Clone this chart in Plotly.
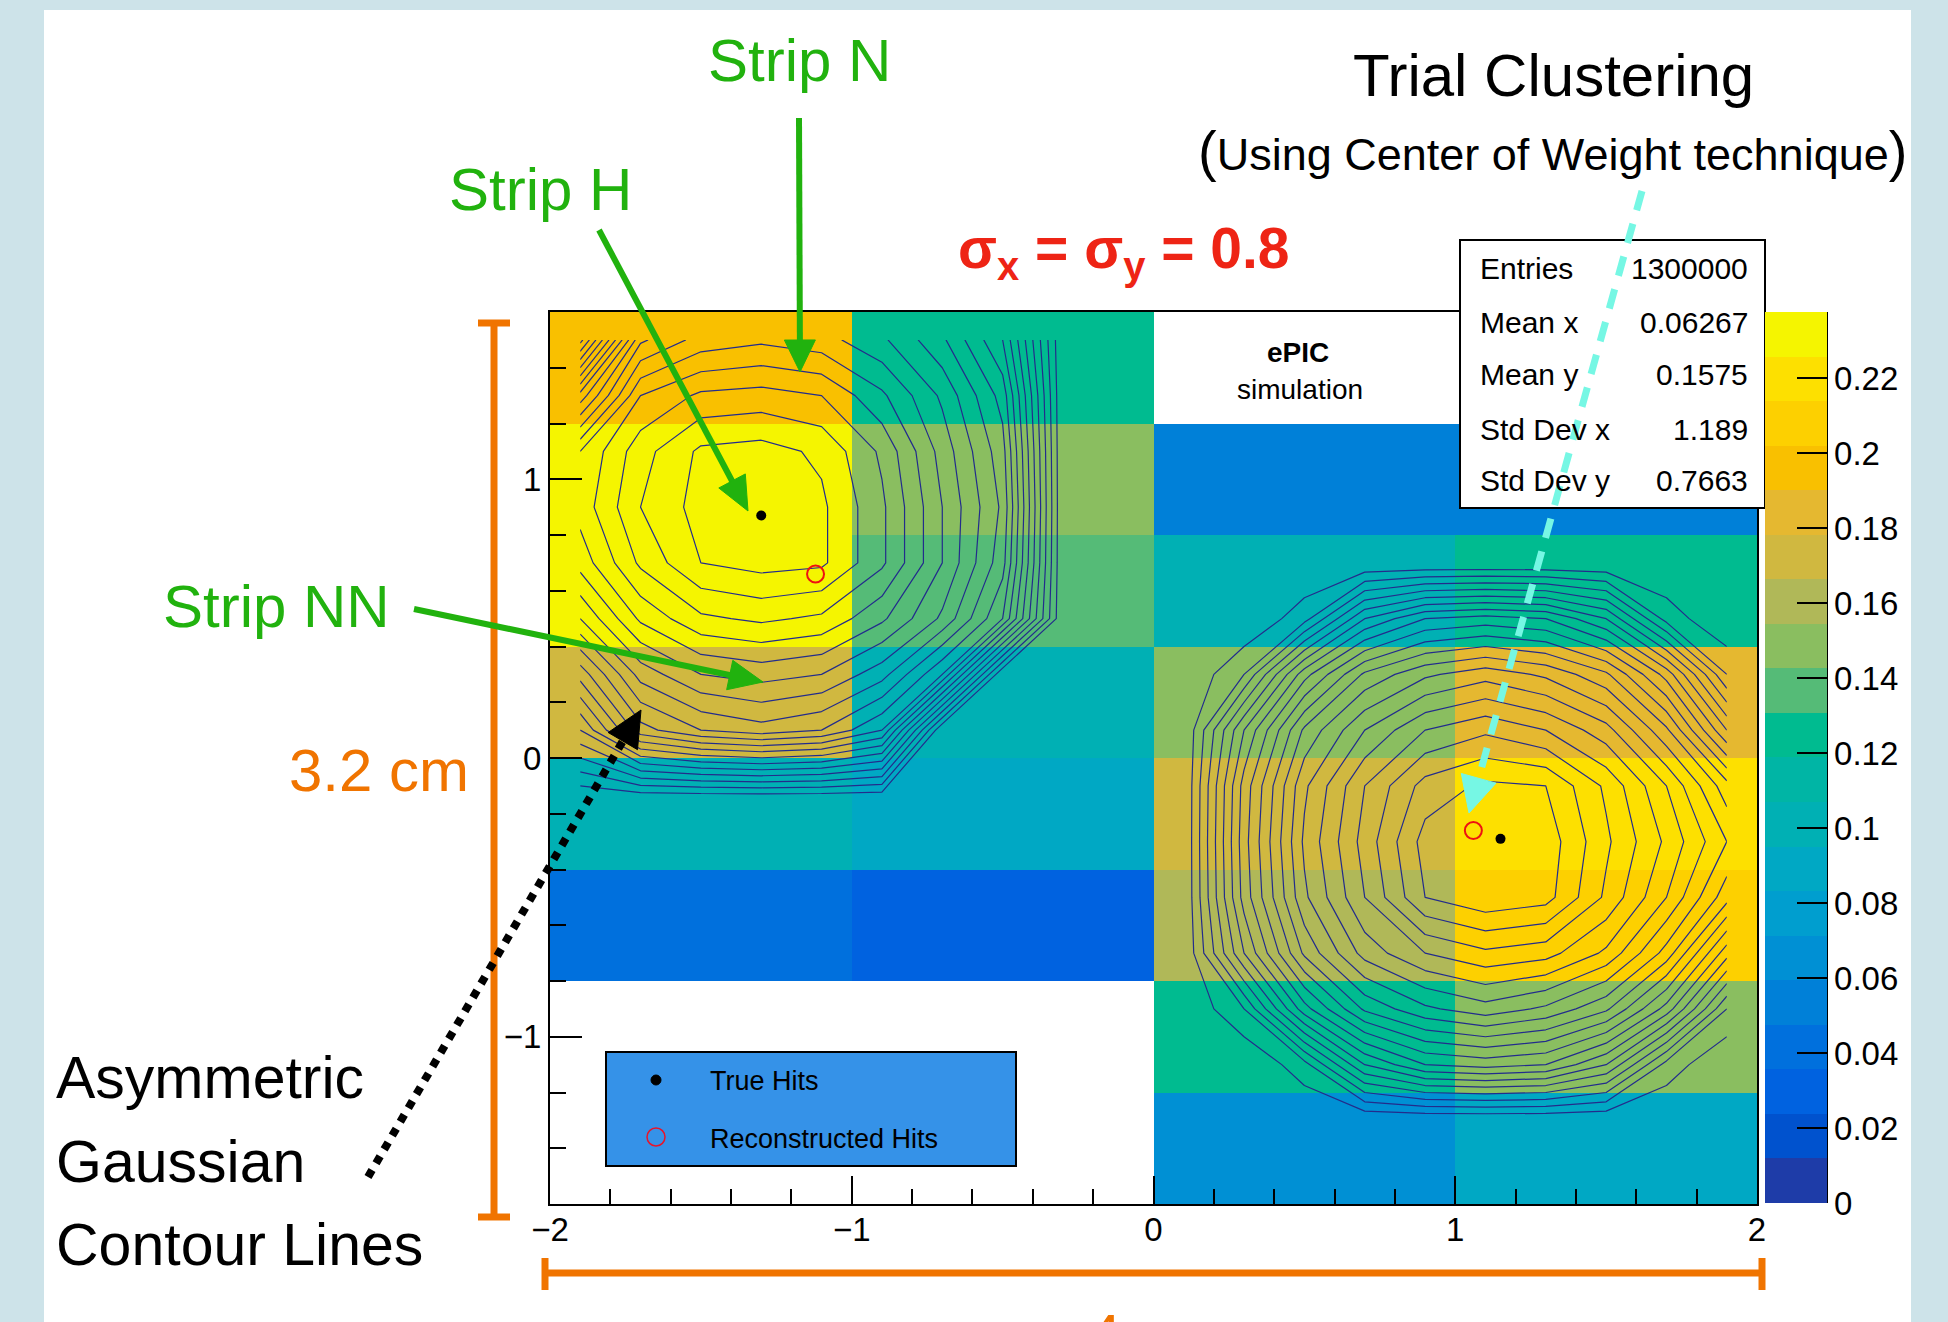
import math
import plotly.graph_objects as go

# ---------------------------------------------------------------- data
# strip occupancy (fraction of charge per strip), 4 x 8 strips
CELL_X = [-1.5, -0.5, 0.5, 1.5]
CELL_Y = [-1.4, -1.0, -0.6, -0.2, 0.2, 0.6, 1.0, 1.4]
CELL_Z = [
    [None, None, 0.065, 0.089],
    [None, None, 0.125, 0.149],
    [0.042, 0.030, 0.160, 0.208],
    [0.101, 0.089, 0.172, 0.220],
    [0.172, 0.101, 0.149, 0.184],
    [0.232, 0.137, 0.101, 0.125],
    [0.232, 0.149, 0.054, 0.054],
    [0.196, 0.125, None, None],
]
Z_MAX = 0.2376

# charge cloud of hit 1 (relative units)
LEFT_X = [-1.9, -1.7, -1.5, -1.3, -1.1, -0.9, -0.7, -0.5, -0.3]
LEFT_Y = [-0.15, 0.10, 0.30, 0.50, 0.70, 0.90, 1.10, 1.30, 1.50]
LEFT_Z = [
    [0, 0, 0, 0, 0, 0, 0, 0, 0],
    [25, 48, 55, 58, 55, 45, 0, 0, 0],
    [42, 62, 70, 72, 70, 62, 45, 0, 0],
    [60, 76, 84, 86, 84, 76, 64, 45, 0],
    [72, 86, 95, 97, 96, 86, 70, 52, 0],
    [77, 90, 97, 100, 96, 86, 70, 54, 0],
    [75, 88, 96, 97, 94, 84, 68, 52, 0],
    [52, 80, 86, 87, 85, 76, 64, 48, 0],
    [18, 64, 72, 74, 72, 66, 56, 40, 0],
]

# charge cloud of hit 2 (relative units)
RIGHT_X = [0.1, 0.3, 0.5, 0.7, 0.9, 1.1, 1.3, 1.5, 1.7, 1.9]
RIGHT_Y = [-1.3, -1.1, -0.9, -0.7, -0.5, -0.3, -0.1, 0.1, 0.3, 0.5, 0.7]
RIGHT_Z = [
    [0, 0, 0, 0, 0, 0, 0, 0, 0, 0],
    [0, 0, 8, 30, 40, 42, 40, 30, 8, 0],
    [0, 10, 38, 56, 64, 68, 64, 56, 38, 10],
    [0, 30, 56, 72, 80, 84, 82, 74, 58, 32],
    [0, 37, 64, 80, 95, 99, 97, 84, 70, 52],
    [0, 38, 66, 82, 97, 100, 98, 86, 74, 60],
    [0, 37, 64, 80, 92, 96, 95, 84, 70, 52],
    [0, 30, 56, 70, 80, 84, 80, 72, 56, 30],
    [0, 10, 38, 56, 64, 68, 64, 56, 38, 10],
    [0, 0, 8, 30, 40, 42, 40, 30, 8, 0],
    [0, 0, 0, 0, 0, 0, 0, 0, 0, 0],
]
CONTOUR_LEVELS = (5, 95, 5)

TRUE_X = [-1.30, 1.15]
TRUE_Y = [0.87, -0.29]
RECO_X = [-1.12, 1.06]
RECO_Y = [0.66, -0.26]

STAT_NAMES = ["Entries", "Mean x", "Mean y", "Std Dev x", "Std Dev y"]
STAT_VALUES = ["1300000", "0.06267", "0.1575", "1.189", "0.7663"]

CBAR_TICKS = [0, 0.02, 0.04, 0.06, 0.08, 0.1, 0.12, 0.14, 0.16, 0.18, 0.2, 0.22]
CBAR_TEXT = ["0", "0.02", "0.04", "0.06", "0.08", "0.1", "0.12", "0.14",
             "0.16", "0.18", "0.2", "0.22"]

# 20-step "bird" palette
BAND_COLORS = [
    "#1E3CA8", "#0052CE", "#0062E0", "#0070DD", "#0080D8",
    "#0090D4", "#009ECF", "#00A8C4", "#00B0B4", "#00B5A5",
    "#00BB90", "#55BB77", "#8ABE60", "#B0B858", "#D0B840",
    "#E5B830", "#F9C000", "#FDD000", "#FDE000", "#F5F500",
]

FONT = "Liberation Sans, Arial, sans-serif"
GREEN = "#21B20E"
ORANGE = "#F07400"
CYAN = "#76F7E4"

# ---------------------------------------------------------------- page geometry
W, H = 1948, 1322
PL, PT, PR, PB = 550, 312, 1757, 1204


def px(X):
    return (X - PL) / (PR - PL)


def py(Y):
    return (PB - Y) / (PB - PT)


# ---------------------------------------------------------------- traces
n = len(BAND_COLORS)
colorscale = []
for k, c in enumerate(BAND_COLORS):
    colorscale.append([k / n, c])
    colorscale.append([(k + 1) / n, c])

fig = go.Figure()
fig.add_trace(go.Heatmap(
    x=CELL_X, y=CELL_Y, z=CELL_Z, zmin=0, zmax=Z_MAX,
    colorscale=colorscale, hoverinfo="skip",
    colorbar=dict(
        x=px(1765), xanchor="left", xpad=0,
        y=py(1203), yanchor="bottom", ypad=0,
        thickness=62, thicknessmode="pixels",
        len=891, lenmode="pixels",
        outlinewidth=0,
        tickmode="array", tickvals=CBAR_TICKS, ticktext=CBAR_TEXT,
        ticks="inside", ticklen=30, tickwidth=2, tickcolor="black",
        tickfont=dict(family=FONT, size=33, color="black"),
    ),
))

lo, hi, step = CONTOUR_LEVELS
for gx, gy, gz in [(LEFT_X, LEFT_Y, LEFT_Z), (RIGHT_X, RIGHT_Y, RIGHT_Z)]:
    fig.add_trace(go.Contour(
        x=gx, y=gy, z=gz, showscale=False, hoverinfo="skip",
        contours=dict(coloring="none", start=lo, end=hi, size=step),
        line=dict(color="#232C8C", width=1.2, smoothing=0),
    ))

fig.add_trace(go.Scatter(
    x=TRUE_X, y=TRUE_Y, mode="markers", name="True Hits",
    marker=dict(color="black", size=10),
))
fig.add_trace(go.Scatter(
    x=RECO_X, y=RECO_Y, mode="markers", name="Reconstructed Hits",
    marker=dict(symbol="circle-open", color="#EE1111", size=17,
                line=dict(width=2, color="#EE1111")),
))

# ---------------------------------------------------------------- decorations
shapes = []


def rect(x0, y0, x1, y1, fill, line_color=None, lw=0, layer="above"):
    shapes.append(dict(type="rect", xref="paper", yref="paper",
                       x0=px(x0), x1=px(x1), y0=py(y1), y1=py(y0),
                       fillcolor=fill, layer=layer,
                       line=dict(color=line_color or fill, width=lw)))


def seg(x0, y0, x1, y1, color, width, dash="solid"):
    shapes.append(dict(type="line", xref="paper", yref="paper",
                       x0=px(x0), y0=py(y0), x1=px(x1), y1=py(y1),
                       line=dict(color=color, width=width, dash=dash),
                       layer="above"))


def arrow(x0, y0, x1, y1, color, width, head_len, head_w, dash="solid"):
    dx, dy = x1 - x0, y1 - y0
    L = math.hypot(dx, dy)
    ux, uy = dx / L, dy / L
    bx, by = x1 - ux * head_len, y1 - uy * head_len
    seg(x0, y0, bx + ux * 2, by + uy * 2, color, width, dash)
    lx, ly = bx - uy * head_w / 2, by + ux * head_w / 2
    rx, ry = bx + uy * head_w / 2, by - ux * head_w / 2
    path = (f"M {px(x1)},{py(y1)} L {px(lx)},{py(ly)} "
            f"L {px(rx)},{py(ry)} Z")
    shapes.append(dict(type="path", xref="paper", yref="paper", path=path,
                       fillcolor=color, line=dict(color=color, width=1),
                       layer="above"))


def circle(cx, cy, d, fill, line_color, lw):
    shapes.append(dict(type="circle", xref="paper", yref="paper",
                       x0=px(cx - d / 2), x1=px(cx + d / 2),
                       y0=py(cy + d / 2), y1=py(cy - d / 2),
                       fillcolor=fill, line=dict(color=line_color, width=lw),
                       layer="above"))


# white panel
rect(44, 10, 1911, 1340, "white", layer="below")

# colour bar axis line
seg(1827, PT, 1827, 1203, "black", 2)

# statistics box
rect(1460, 240, 1765, 508, "white", "black", 2)

# legend box
rect(606, 1052, 1016, 1166, "#3592E8", "black", 2)
circle(656, 1080, 10, "black", "black", 1)
circle(656, 1137, 18, "rgba(0,0,0,0)", "#E8142A", 1.5)

# size bars
seg(494, 323, 494, 1217, ORANGE, 7)
seg(478, 323, 510, 323, ORANGE, 7)
seg(478, 1217, 510, 1217, ORANGE, 7)
seg(545, 1273, 1762, 1273, ORANGE, 7)
seg(545, 1258, 545, 1290, ORANGE, 7)
seg(1762, 1258, 1762, 1290, ORANGE, 7)

# pointers
arrow(799, 118, 800, 372, GREEN, 6, 32, 31)
arrow(599, 230, 748, 511, GREEN, 6, 34, 30)
arrow(414, 609, 763, 682, GREEN, 6, 34, 30)
arrow(368, 1177, 641, 710, "black", 8, 36, 34, dash="8px,8px")
arrow(1642, 191, 1469, 813, CYAN, 7, 36, 36, dash="20px,14px")

annotations = []


def label(text, X, Y, size, color="black", xanchor="center",
          yanchor="middle", family=FONT):
    annotations.append(dict(
        x=px(X), y=py(Y), xref="paper", yref="paper", text=text,
        showarrow=False, xanchor=xanchor, yanchor=yanchor,
        font=dict(family=family, size=size, color=color)))


label("Strip N", 799, 60, 60, GREEN)
label("Strip H", 540, 190, 60, GREEN)
label("Strip NN", 276, 606, 60, GREEN)
label("Trial Clustering", 1553, 76, 60)
label("<span style='font-size:56px'>(</span>Using Center of Weight technique"
      "<span style='font-size:56px'>)</span>", 1552, 150, 45)
label("<b>σ<sub>x</sub> = σ<sub>y</sub> = 0.8</b>", 1124, 252, 57, "#EE2415")
label("<b>ePIC</b>", 1298, 352, 28)
label("simulation", 1300, 389, 28)
label("3.2 cm", 379, 770, 60, ORANGE)
label("4 cm", 1153, 1300, 60, ORANGE, yanchor="top")
label("Asymmetric", 54, 1078, 59, xanchor="left")
label("Gaussian", 54, 1162, 59, xanchor="left")
label("Contour Lines", 54, 1245, 59, xanchor="left")

stat_rows = [269, 322, 374, 429, 480]
for name, val, yy in zip(STAT_NAMES, STAT_VALUES, stat_rows):
    label(name, 1478, yy, 30, xanchor="left")
    label(val, 1750, yy, 30, xanchor="right")

label("True Hits", 708, 1081, 27, xanchor="left")
label("Reconstructed Hits", 708, 1139, 27, xanchor="left")

axis_common = dict(
    showgrid=False, zeroline=False, showline=True, linewidth=2,
    linecolor="black", mirror=True, ticks="inside", tickwidth=2,
    tickcolor="black", tickfont=dict(family=FONT, size=33, color="black"),
)

fig.update_layout(
    width=W, height=H, autosize=False,
    margin=dict(l=PL, r=W - PR, t=PT, b=H - PB, pad=0),
    paper_bgcolor="#CDE3E9", plot_bgcolor="white",
    showlegend=False,
    xaxis=dict(range=[-2, 2], tickvals=[-2, -1, 0, 1, 2], ticklen=28,
               ticklabelstandoff=-5,
               minor=dict(dtick=0.2, tick0=0, ticks="inside", ticklen=15,
                          tickwidth=2, tickcolor="black"),
               **axis_common),
    yaxis=dict(range=[-1.6, 1.6], tickvals=[-1, 0, 1], ticklen=32,
               minor=dict(dtick=0.2, tick0=0, ticks="inside", ticklen=16,
                          tickwidth=2, tickcolor="black"),
               **axis_common),
    shapes=shapes, annotations=annotations,
)

fig.write_html("out.html")
